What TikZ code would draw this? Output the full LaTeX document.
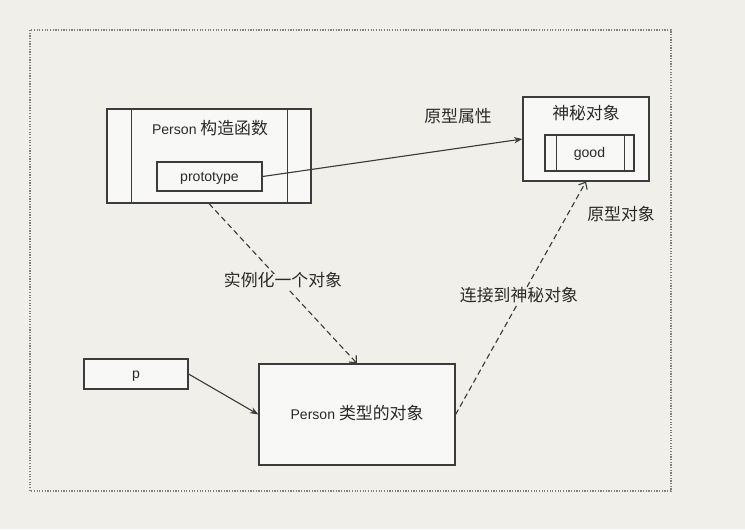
\documentclass[tikz,border=0pt]{standalone}
\usepackage{fontspec}
\setmainfont{Liberation Sans}
\newfontfamily\cjk[Scale=1.2]{Noto Sans CJK SC}
\usetikzlibrary{shapes,arrows,arrows.meta,positioning,calc,fit}
\definecolor{bgc}{HTML}{F0EFE9}
\definecolor{boxc}{HTML}{F8F8F6}
\definecolor{linec}{HTML}{3C3C3C}
\definecolor{txtc}{HTML}{2A2A2A}
\tikzset{
  box/.style={draw=linec, fill=boxc, rectangle, line width=0.8pt, inner sep=0pt},
  lbl/.style={text=txtc, font=\fontsize{10}{12}\selectfont, inner sep=1pt, text height=1.6ex, text depth=0.3ex},
  solidarrow/.style={-{Stealth[length=6pt,width=4.5pt]}, draw=linec, line width=0.8pt},
  dasharrow/.style={-{Straight Barb[length=4pt,width=7pt]}, draw=linec, line width=0.8pt, dash pattern=on 4pt off 2.5pt}
}
\begin{document}
\begin{tikzpicture}[x=0.025cm, y=-0.025cm]
\fill[bgc] (0,0) rectangle (745,529);
\useasboundingbox (0,0) rectangle (745,529);
% 外框
\draw[gray, densely dotted, line width=0.9pt] (30,30) rectangle (671,491);

% Person 构造函数
\node[box, minimum width=5.1cm, minimum height=2.35cm] (cons) at (209,156) {};
\draw[linec, line width=0.8pt] ($(cons.north west)+(25,0)$) -- ($(cons.south west)+(25,0)$);
\draw[linec, line width=0.8pt] ($(cons.north east)+(-24,0)$) -- ($(cons.south east)+(-24,0)$);
\node[lbl] (constitle) at (210,130) {Person {\cjk 构造函数}};
\node[box, lbl, draw=linec, fill=boxc, minimum width=2.625cm, minimum height=0.725cm] (proto) at (209.5,176.5) {prototype};

% 神秘对象
\node[box, minimum width=3.15cm, minimum height=2.1cm] (myst) at (586,139) {};
\node[lbl] (mysttitle) at (586,115) {\cjk 神秘对象};
\node[box, minimum width=2.225cm, minimum height=0.9cm] (good) at (589.5,153) {};
\draw[linec, line width=0.8pt] ($(good.north west)+(12,0)$) -- ($(good.south west)+(12,0)$);
\draw[linec, line width=0.8pt] ($(good.north east)+(-10,0)$) -- ($(good.south east)+(-10,0)$);
\node[lbl] at (good.center) {good};

% p 与 Person 类型的对象
\node[box, lbl, draw=linec, fill=boxc, minimum width=2.6cm, minimum height=0.75cm] (p) at (136,374) {p};
\node[box, lbl, draw=linec, fill=boxc, minimum width=4.9cm, minimum height=2.525cm] (obj) at (357,414.5) {Person {\cjk 类型的对象}};

% 关系
\draw[solidarrow] (proto.east) -- (myst.west);
\node[lbl] at (458,118) {\cjk 原型属性};
\draw[solidarrow] (p.east) -- (obj.west);
\draw[dasharrow] (cons.south) -- (obj.north);
\node[lbl, fill=bgc] at (283,282) {\cjk 实例化一个对象};
\draw[dasharrow] (obj.east) -- (myst.south);
\node[lbl, fill=bgc] at (519,297) {\cjk 连接到神秘对象};
\node[lbl] at (621,216) {\cjk 原型对象};
\end{tikzpicture}
\end{document}
